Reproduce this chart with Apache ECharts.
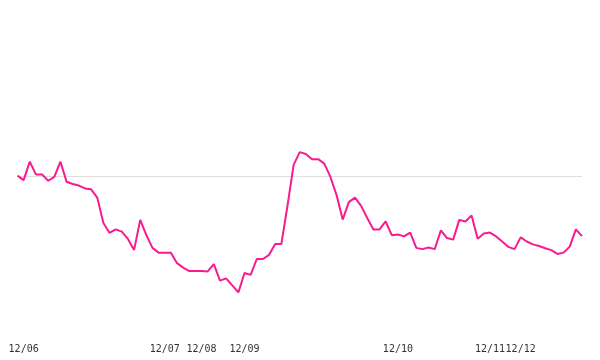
<!DOCTYPE html>
<html>
<head>
<meta charset="utf-8">
<script src="https://cdn.jsdelivr.net/npm/echarts@6/dist/echarts.min.js"></script>
<style>
html,body{margin:0;padding:0;background:#fff;}
#chart{width:600px;height:360px;}
</style>
</head>
<body>
<div id="chart"></div>
<script>
// series values (one per sample point)
const values = [
  50.1, 48.7, 54.5, 50.5, 50.5, 48.5, 49.7, 54.5, 48.2, 47.5,
  47.0, 46.1, 45.8, 43.2, 35.2, 32.1, 33.2, 32.5, 30.2, 26.7,
  36.2, 31.4, 27.4, 25.9, 25.9, 25.9, 22.6, 21.2, 20.1, 20.1,
  20.1, 20.0, 22.3, 17.1, 17.8, 15.6, 13.4, 19.5, 18.9, 23.9,
  23.9, 25.2, 28.6, 28.6, 40.6, 53.5, 57.5, 56.9, 55.3, 55.3,
  53.9, 49.7, 44.0, 36.3, 41.8, 43.2, 40.6, 36.8, 33.2, 33.2,
  35.7, 31.4, 31.6, 31.0, 32.2, 27.4, 27.0, 27.5, 27.0, 32.9,
  30.5, 30.0, 36.2, 35.7, 37.6, 30.3, 31.9, 32.2, 31.0, 29.4,
  27.7, 27.0, 30.7, 29.4, 28.5, 28.0, 27.3, 26.7, 25.5, 25.9,
  27.8, 33.2, 31.1
];
// tick labels and the sample index at which each day starts
const tickLabels = ['12/06', '12/07', '12/08', '12/09', '12/10', '12/11', '12/12'];
const tickIndex = [1, 24, 30, 37, 62, 77, 82];
// categories: sample index
const categories = values.map((_, i) => String(i));

const labelAt = {};
tickIndex.forEach((ix, k) => { labelAt[ix] = tickLabels[k]; });

const chart = echarts.init(document.getElementById('chart'), null, {renderer: 'canvas'});
chart.setOption({
  animation: false,
  backgroundColor: '#ffffff',
  grid: {left: 17.5, right: 18, top: 17, bottom: 25, containLabel: false},
  xAxis: {
    type: 'category',
    data: categories,
    boundaryGap: false,
    axisLine: {show: false},
    axisTick: {show: false},
    splitLine: {show: false},
    axisLabel: {
      interval: 0,
      margin: 9,
      color: '#333',
      fontFamily: 'DejaVu Sans Mono',
      fontSize: 10,
      formatter: (val, idx) => labelAt[idx] || ''
    }
  },
  yAxis: {
    type: 'value',
    min: 0,
    max: 100,
    interval: 50,
    axisLine: {show: false},
    axisTick: {show: false},
    axisLabel: {show: false},
    splitLine: {show: true, lineStyle: {color: ['rgba(0,0,0,0)', '#dedede', 'rgba(0,0,0,0)'], width: 1}}
  },
  series: [{
    type: 'line',
    data: values,
    showSymbol: false,
    symbol: 'none',
    smooth: false,
    lineStyle: {color: '#f81a8e', width: 2},
    itemStyle: {color: '#f81a8e'}
  }]
});
</script>
</body>
</html>
